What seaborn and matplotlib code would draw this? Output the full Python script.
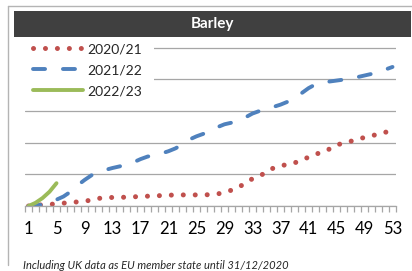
import matplotlib
matplotlib.use("Agg")
import matplotlib.pyplot as plt
import seaborn as sns
from matplotlib.patches import Rectangle
from matplotlib.lines import Line2D

# cumulative weekly values (one gridline = 1 unit)
weeks = list(range(1, 54))
y_2020 = [0, 0.02, 0.04, 0.05, 0.07, 0.09, 0.11, 0.13, 0.15, 0.19,
          0.24, 0.26, 0.27, 0.27, 0.28, 0.29, 0.30, 0.31, 0.32, 0.33,
          0.34, 0.35, 0.35, 0.35, 0.35, 0.35, 0.36, 0.38, 0.43, 0.50,
          0.58, 0.74, 0.86, 0.94, 1.08, 1.20, 1.27, 1.31, 1.36, 1.45,
          1.54, 1.64, 1.69, 1.80, 1.93, 1.98, 2.04, 2.12, 2.16, 2.21,
          2.28, 2.33, 2.37]
y_2021 = [0, 0.02, 0.04, 0.10, 0.20, 0.30, 0.45, 0.65, 0.82, 0.97,
          1.07, 1.14, 1.20, 1.25, 1.31, 1.38, 1.48, 1.56, 1.61, 1.66,
          1.73, 1.82, 1.95, 2.10, 2.20, 2.28, 2.38, 2.49, 2.58, 2.63,
          2.70, 2.80, 2.92, 3.00, 3.08, 3.13, 3.20, 3.29, 3.42, 3.56,
          3.72, 3.84, 3.90, 3.93, 3.96, 3.99, 4.03, 4.07, 4.12, 4.17,
          4.23, 4.31, 4.39]
weeks_2022 = [1, 2, 3, 4, 5]
y_2022 = [0, 0.10, 0.25, 0.45, 0.72]

labels = ["2020/21", "2021/22", "2022/23"]
tick_weeks = list(range(1, 54, 4))
title = "Barley"
footnote = "Including UK data as EU member state until 31/12/2020"

sns.set_theme(style="white")
plt.rcParams["font.family"] = ["Lato", "DejaVu Sans"]

W, H = 412, 271
fig = plt.figure(figsize=(W / 100, H / 100), dpi=100)
fig.patch.set_facecolor("white")

# outer frame (left + top edges) and dark title bar
fig.add_artist(Line2D([8 / W, 8 / W], [1 - 6 / H, 1 - 265 / H], color="#b4b4b4", lw=1))
fig.add_artist(Line2D([8 / W, 1], [1 - 6 / H, 1 - 6 / H], color="#b4b4b4", lw=1))
fig.add_artist(Rectangle((14 / W, 1 - 36.5 / H), (411 - 14) / W, 25.5 / H,
                         facecolor="#404040", edgecolor="none"))
fig.text((14 + 411) / 2 / W, 1 - 24 / H, title, color="white", fontsize=11,
         fontweight="bold", ha="center", va="center")

ax = fig.add_axes([25 / W, 1 - 206 / H, (396 - 25) / W, (206 - 47) / H])
ax.set_facecolor("white")

sns.lineplot(x=weeks, y=y_2020, ax=ax, color="#c0504d", lw=3.6,
             linestyle=(0, (0.01, 2.38)), dash_capstyle="round", label=labels[0])
sns.lineplot(x=weeks, y=y_2021, ax=ax, color="#4f81bd", lw=2.8,
             linestyle=(0, (3.1, 4.6)), dash_capstyle="round", label=labels[1])
sns.lineplot(x=weeks_2022, y=y_2022, ax=ax, color="#9bbb59", lw=2.8,
             solid_capstyle="round", label=labels[2])

ax.set_xlim(0.5, 53.5)
ax.set_ylim(0, 5.02)
ax.set_yticks(range(0, 6))
ax.set_yticklabels([])
ax.tick_params(axis="y", length=0)
ax.yaxis.grid(True, color="#a6a6a6", lw=0.9)
ax.set_axisbelow(True)

ax.set_xticks(tick_weeks)
ax.set_xticks([w - 0.5 for w in weeks] + [53.5], minor=True)
ax.tick_params(axis="x", which="major", length=0, pad=11, labelsize=12, labelcolor="black")
ax.tick_params(axis="x", which="minor", length=4.5, width=0.9, color="#a6a6a6",
               direction="out", bottom=True)
ax.set_xlabel("")
ax.set_ylabel("")

for side in ["top", "left", "right"]:
    ax.spines[side].set_visible(False)
ax.spines["bottom"].set_color("#a6a6a6")
ax.spines["bottom"].set_linewidth(0.9)

# white patch behind the legend hides the gridlines there
ax.add_patch(Rectangle((-0.01, (206 - 96) / 159), (154 - 25) / 371 + 0.01, 0.4,
                       transform=ax.transAxes, facecolor="white", edgecolor="none",
                       zorder=1.5, clip_on=False))

ax.legend(loc="upper left", bbox_to_anchor=((33 - 25) / 371, (206 - 43) / 159),
          frameon=False, fontsize=10, handlelength=3.6, handletextpad=0.3,
          labelspacing=0.66, borderpad=0, borderaxespad=0)

fig.text(23 / W, 1 - 265.5 / H, footnote, fontsize=8, style="italic",
         color="#262626", ha="left", va="center")

plt.savefig("out.png", dpi=100)
plt.close()
